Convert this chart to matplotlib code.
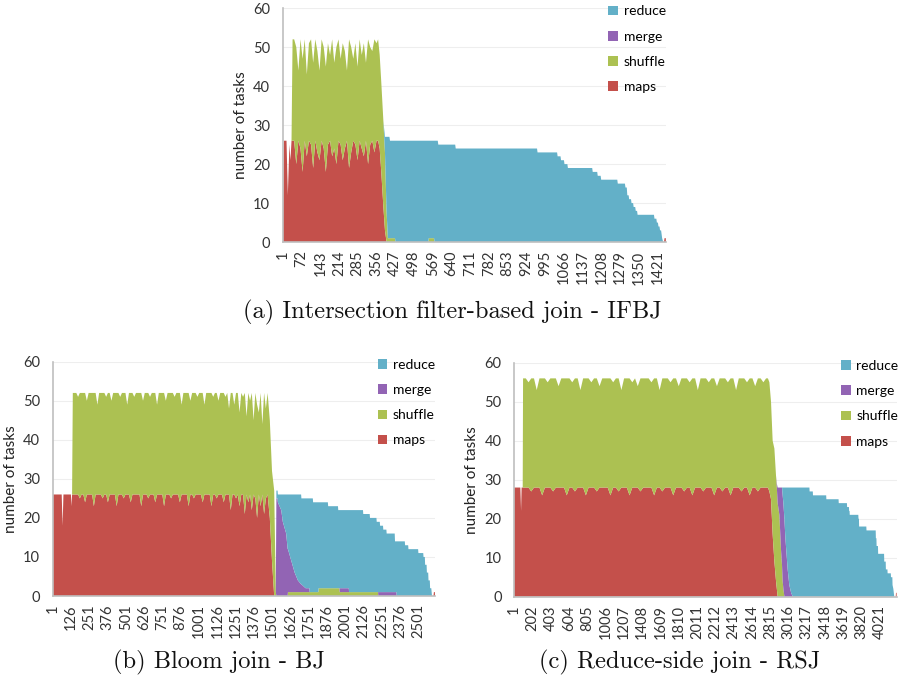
import matplotlib.pyplot as plt

plt.rcParams['font.family'] = ['Lato', 'DejaVu Sans']

# ---- (a) IFBJ ----
# phase 1: maps + shuffle
A1_X = [1, 5, 15, 20, 26, 30, 34, 38,
        44, 52, 60, 68, 76, 84, 92, 100, 108, 116, 124, 132, 140, 148, 156, 164,
        172, 180, 188, 196, 204, 212, 220, 228, 236, 244, 252, 260, 268, 276, 284,
        292, 300, 308, 316, 324, 332, 340, 348, 356, 362]
A1_MAPS = [0, 26, 26, 12, 25, 21, 26, 26,
           26, 20, 26, 24, 18, 26, 22, 26, 25, 19, 26, 23, 21, 26, 24, 18, 25, 26,
           22, 24, 20, 26, 25, 21, 24, 26, 19, 23, 26, 25, 21, 26, 24, 22, 26, 20,
           25, 26, 23, 26, 26]
A1_SHUFFLE = [0, 0, 0, 0, 0, 0, 0, 26,
              26, 30, 18, 28, 29, 26, 21, 25, 27, 27, 26, 26, 23, 26, 26, 27, 26, 22,
              30, 22, 30, 26, 22, 30, 25, 18, 33, 27, 21, 26, 24, 26, 24, 29, 20, 32,
              25, 23, 29, 25, 26]
# transition
A2_X = [368, 374, 382, 388, 394, 399, 405, 407, 426, 428, 552, 554, 574, 576]
A2_MAPS = [24, 18, 9, 3, 0, 0, 0, 0, 0, 0, 0, 0, 0, 0]
A2_SHUFFLE = [24, 23, 22, 20, 8, 1, 1, 1, 1, 0, 0, 1, 1, 0]
A2_MERGE = [0, 0, 0, 0, 0, 0, 0, 0, 0, 0, 0, 0, 0, 0]
A2_REDUCE = [0, 0, 0, 4, 19, 26, 26, 25, 25, 26, 26, 25, 25, 26]
# reduce tail
A3_X = [588, 590, 654, 656, 964, 966, 1040, 1042, 1053, 1055, 1066, 1068, 1079, 1081,
        1173, 1175, 1192, 1194, 1205, 1207, 1268, 1270, 1297, 1299, 1304, 1306, 1311,
        1313, 1320, 1322, 1328, 1330, 1336, 1338, 1343, 1345, 1407, 1409, 1416, 1418,
        1422, 1424, 1428, 1430, 1434, 1436, 1438, 1442]
A3_REDUCE = [26, 25, 25, 24, 24, 23, 23, 22, 22, 21, 21, 20, 20, 19, 19, 18, 18, 17,
             17, 16, 16, 15, 15, 14, 14, 12, 12, 11, 11, 10, 10, 9, 9, 8, 8, 7, 7, 6,
             6, 5, 5, 4, 4, 3, 3, 2, 1, 0]
A4_X = [1445, 1447, 1452]
A4_MAPS = [0, 1, 1]
A_TICKS = [1, 72, 143, 214, 285, 356, 427, 498, 569, 640, 711, 782, 853, 924, 995,
           1066, 1137, 1208, 1279, 1350, 1421]
A_N = 1452

# ---- (b) BJ ----
B1_X = [1, 62, 68, 74, 125, 129, 133, 138,
        150, 162, 174, 186, 198, 210, 222, 234, 246, 258,
        270, 282, 294, 306, 318, 330, 342, 354, 366, 378,
        390, 402, 414, 426, 438, 450, 462, 474, 486, 498,
        510, 522, 534, 546, 558, 570, 582, 594, 606, 618,
        630, 642, 654, 666, 678, 690, 702, 714, 726, 738,
        750, 762, 774, 786, 798, 810, 822, 834, 846, 858,
        870, 882, 894, 906, 918, 930, 942, 954, 966, 978,
        990, 1002, 1014, 1026, 1038, 1050, 1062, 1074, 1086, 1098,
        1110, 1122, 1134, 1146, 1158, 1170, 1182, 1194, 1206, 1218,
        1230, 1242, 1254, 1266, 1278, 1290, 1302, 1314, 1326, 1338,
        1350, 1362, 1374, 1386, 1398, 1410, 1422, 1434, 1446, 1458,
        1470]
B1_MAPS = [26, 26, 18, 26, 26, 23, 26, 26,
           26, 26, 26, 25, 26, 26, 24, 26, 26, 26,
           26, 23, 26, 26, 26, 26, 25, 26, 26, 24,
           26, 26, 26, 26, 23, 26, 26, 26, 25, 26,
           26, 26, 24, 26, 26, 26, 26, 26, 23, 26,
           26, 26, 25, 26, 26, 26, 24, 26, 26, 26,
           26, 23, 26, 26, 26, 25, 26, 26, 26, 26,
           24, 26, 26, 26, 26, 23, 26, 26, 25, 26,
           26, 26, 26, 24, 26, 26, 26, 26, 23, 26,
           26, 25, 26, 26, 26, 24, 26, 26, 26, 22,
           26, 26, 25, 26, 23, 26, 26, 21, 26, 24,
           26, 22, 26, 25, 20, 26, 23, 26, 21, 25,
           26]
B1_SHUFFLE = [0, 0, 0, 0, 0, 0, 0, 26,
              26, 26, 25, 27, 26, 26, 28, 24, 26, 26,
              26, 29, 26, 23, 26, 26, 27, 26, 25, 28,
              26, 24, 26, 26, 29, 26, 25, 26, 27, 26,
              23, 26, 28, 26, 25, 26, 26, 26, 29, 24,
              26, 26, 27, 25, 26, 26, 28, 23, 26, 26,
              26, 29, 24, 26, 26, 27, 26, 25, 26, 26,
              28, 23, 26, 26, 26, 29, 24, 26, 27, 26,
              25, 26, 26, 28, 23, 26, 26, 26, 29, 25,
              26, 27, 24, 26, 26, 28, 25, 26, 22, 30,
              26, 23, 27, 26, 24, 26, 25, 31, 20, 28,
              24, 30, 19, 27, 29, 21, 29, 18, 31, 23,
              26]
B2_X = [1485, 1500, 1515, 1526, 1530, 1538, 1540, 1563, 1574, 1597,
        1607, 1609, 1632, 1655, 1677, 1699, 1701, 1730, 1756, 1758,
        1779, 1781, 1817, 1819, 1882, 1884, 1951, 1953, 1961, 1963,
        2025, 2027, 2122, 2124, 2168, 2170, 2214, 2216, 2225, 2227,
        2237, 2239, 2259, 2261, 2282, 2284, 2339, 2341, 2351, 2353]
B2_MAPS = [20, 9, 0, 0, 0, 0, 0, 0, 0, 0,
           0, 0, 0, 0, 0, 0, 0, 0, 0, 0,
           0, 0, 0, 0, 0, 0, 0, 0, 0, 0,
           0, 0, 0, 0, 0, 0, 0, 0, 0, 0,
           0, 0, 0, 0, 0, 0, 0, 0, 0, 0]
B2_SHUFFLE = [25, 23, 27, 1, 0, 0, 0, 0, 0, 0,
              0, 1, 1, 1, 1, 1, 1, 1, 1, 1,
              1, 1, 1, 2, 2, 2, 2, 2, 2, 1,
              1, 1, 1, 1, 1, 1, 1, 1, 1, 0,
              0, 0, 0, 0, 0, 0, 0, 0, 0, 0]
B2_MERGE = [0, 0, 0, 0, 25, 25, 24, 22, 19, 16,
            12, 11, 8, 5, 3, 2, 2, 1, 1, 0,
            0, 0, 0, 0, 0, 0, 0, 0, 0, 1,
            1, 0, 0, 0, 0, 0, 0, 0, 0, 1,
            1, 1, 1, 1, 1, 1, 1, 1, 1, 0]
B2_REDUCE = [0, 0, 0, 0, 2, 2, 2, 4, 7, 10,
             14, 14, 17, 20, 22, 23, 22, 23, 23, 24,
             24, 23, 23, 22, 22, 21, 21, 20, 20, 20,
             20, 21, 21, 20, 20, 19, 19, 18, 18, 18,
             18, 17, 17, 16, 16, 15, 15, 13, 13, 14]
B3_X = [2408, 2410, 2431, 2433, 2499, 2501, 2534, 2536, 2545, 2547, 2557, 2559,
        2568, 2570, 2579, 2581, 2589, 2594]
B3_REDUCE = [14, 13, 13, 12, 12, 11, 11, 10, 10, 8, 8, 6, 6, 4, 4, 2, 2, 0]
B4_X = [2604, 2607, 2614]
B4_MAPS = [0, 1, 1]
B_TICKS = [1, 126, 251, 376, 501, 626, 751, 876, 1001, 1126, 1251, 1376, 1501,
           1626, 1751, 1876, 2001, 2126, 2251, 2376, 2501]
B_N = 2614

# ---- (c) RSJ ----
C1_X = [1, 70, 78, 84, 96, 100,
        130, 160, 190, 220, 250, 280, 310, 340, 370, 400,
        430, 460, 490, 520, 550, 580, 610, 640, 670, 700,
        730, 760, 790, 820, 850, 880, 910, 940, 970, 1000,
        1030, 1060, 1090, 1120, 1150, 1180, 1210, 1240, 1270, 1300,
        1330, 1360, 1390, 1420, 1450, 1480, 1510, 1540, 1570, 1600,
        1630, 1660, 1690, 1720, 1750, 1780, 1810, 1840, 1870, 1900,
        1930, 1960, 1990, 2020, 2050, 2080, 2110, 2140, 2170, 2200,
        2230, 2260, 2290, 2320, 2350, 2380, 2410, 2440, 2470, 2500,
        2530, 2560, 2590, 2620, 2650, 2680, 2710, 2740, 2770,
        2790]
C1_MAPS = [28, 28, 22, 28, 28, 28,
           28, 28, 27, 28, 28, 28, 26, 28, 28, 28,
           27, 28, 28, 28, 28, 26, 28, 28, 27, 28,
           28, 28, 26, 28, 28, 28, 27, 28, 28, 28,
           28, 26, 28, 28, 27, 28, 28, 28, 26, 28,
           28, 28, 27, 28, 28, 28, 28, 26, 28, 28,
           27, 28, 28, 28, 26, 28, 28, 28, 27, 28,
           28, 26, 28, 28, 28, 27, 28, 28, 28, 26,
           28, 28, 27, 28, 28, 26, 28, 28, 28, 27,
           28, 28, 26, 28, 28, 27, 28, 28, 28,
           28]
C1_SHUFFLE = [0, 0, 0, 0, 0, 28,
              28, 27, 29, 28, 25, 28, 30, 28, 27, 28,
              29, 28, 26, 28, 28, 30, 28, 27, 29, 28,
              25, 28, 30, 28, 27, 28, 29, 26, 28, 28,
              28, 30, 27, 28, 29, 25, 28, 28, 30, 27,
              28, 26, 29, 28, 28, 28, 27, 30, 28, 25,
              29, 28, 28, 27, 30, 28, 26, 28, 29, 28,
              27, 30, 28, 25, 28, 29, 28, 27, 28, 30,
              26, 28, 29, 28, 27, 30, 28, 25, 28, 29,
              28, 27, 30, 28, 26, 29, 28, 27, 28,
              28]
C2_X = [2806, 2824, 2842, 2861, 2879, 2888, 2897, 2916, 2934, 2945, 2952, 2960,
        2971, 2982, 3007, 3025, 3045, 3063]
C2_MAPS = [27, 25, 16, 9, 4, 2, 0, 0, 0, 0, 0, 0, 0, 0, 0, 0, 0, 0]
C2_SHUFFLE = [28, 25, 24, 29, 27, 26, 24, 21, 12, 8, 4, 2, 0, 0, 0, 0, 0, 0]
C2_MERGE = [0, 0, 0, 0, 0, 1, 4, 7, 16, 20, 22, 22, 20, 15, 7, 3, 1, 0]
C2_REDUCE = [0, 0, 0, 0, 0, 0, 0, 0, 0, 0, 2, 4, 8, 13, 21, 25, 27, 28]
C3_X = [3246, 3248, 3283, 3285, 3430, 3432, 3566, 3568, 3658, 3660, 3680, 3682,
        3687, 3689, 3783, 3785, 3790, 3792, 3871, 3873, 3974, 3976, 3982, 3984,
        3999, 4001, 4066, 4068, 4084, 4086, 4103, 4105, 4140, 4142, 4157, 4159,
        4168, 4178]
C3_REDUCE = [28, 27, 27, 26, 26, 25, 25, 24, 24, 23, 23, 22, 22, 21, 21, 20, 20, 18,
             18, 17, 17, 15, 15, 13, 13, 11, 11, 9, 9, 7, 7, 6, 6, 5, 5, 3, 2, 0]
C4_X = [4194, 4197, 4204]
C4_MAPS = [0, 1, 1]
C_TICKS = [1, 202, 403, 604, 805, 1006, 1207, 1408, 1609, 1810, 2011, 2212, 2413,
           2614, 2815, 3016, 3217, 3418, 3619, 3820, 4021]
C_N = 4204

NAMES = ['maps', 'shuffle', 'merge', 'reduce']
COLORS = ['#C4504B', '#ACC152', '#9264B4', '#63B0C8']


def build(p_x, p_maps, p_shuffle, t_x, t_maps, t_shuffle, t_merge, t_reduce,
          r_x, r_reduce, e_x, e_maps):
    n1, n3, n4 = len(p_x), len(r_x), len(e_x)
    x = p_x + t_x + r_x + e_x
    maps = p_maps + t_maps + [0] * n3 + e_maps
    shuffle = p_shuffle + t_shuffle + [0] * (n3 + n4)
    merge = [0] * n1 + t_merge + [0] * (n3 + n4)
    reduce_ = [0] * n1 + t_reduce + r_reduce + [0] * n4
    return x, [maps, shuffle, merge, reduce_]


def draw(ax, x, ys, ticks, n, leg_anchor):
    ax.stackplot(x, ys, colors=COLORS, labels=NAMES, linewidth=0)
    ax.set_xlim(0.5, n + 0.5)
    ax.set_ylim(0, 60)
    ax.set_yticks(range(0, 61, 10))
    ax.set_xticks(ticks)
    ax.set_xticklabels([str(t) for t in ticks], rotation=90)
    ax.tick_params(axis='both', length=0, labelsize=10.5, colors='#333333')
    ax.tick_params(axis='y', pad=9)
    ax.tick_params(axis='x', pad=6)
    ax.grid(axis='y', color='#EEEEEE', linewidth=0.8)
    ax.set_axisbelow(True)
    for s in ['top', 'right']:
        ax.spines[s].set_visible(False)
    for s in ['left', 'bottom']:
        ax.spines[s].set_color('#BFBFBF')
        ax.spines[s].set_linewidth(1.2)
    ax.set_ylabel('number of tasks', fontsize=11, color='#222222', labelpad=4)
    handles, labels = ax.get_legend_handles_labels()
    ax.legend(handles[::-1], labels[::-1], loc='upper left', bbox_to_anchor=leg_anchor,
              frameon=False, fontsize=10, handlelength=0.7, handleheight=0.7,
              handletextpad=0.4, labelspacing=0.95, borderpad=0, borderaxespad=0)


fig = plt.figure(figsize=(9.04, 6.8), dpi=100)

ax_a = fig.add_axes([0.3127, 0.644, 0.424, 0.344])
xa, ya = build(A1_X, A1_MAPS, A1_SHUFFLE, A2_X, A2_MAPS, A2_SHUFFLE, A2_MERGE, A2_REDUCE,
               A3_X, A3_REDUCE, A4_X, A4_MAPS)
draw(ax_a, xa, ya, A_TICKS, A_N, (0.85, 1.012))

ax_b = fig.add_axes([0.0583, 0.1235, 0.4229, 0.3446])
xb, yb = build(B1_X, B1_MAPS, B1_SHUFFLE, B2_X, B2_MAPS, B2_SHUFFLE, B2_MERGE, B2_REDUCE,
               B3_X, B3_REDUCE, B4_X, B4_MAPS)
draw(ax_b, xb, yb, B_TICKS, B_N, (0.85, 1.012))

ax_c = fig.add_axes([0.5686, 0.1225, 0.4233, 0.344])
xc, yc = build(C1_X, C1_MAPS, C1_SHUFFLE, C2_X, C2_MAPS, C2_SHUFFLE, C2_MERGE, C2_REDUCE,
               C3_X, C3_REDUCE, C4_X, C4_MAPS)
draw(ax_c, xc, yc, C_TICKS, C_N, (0.855, 1.012))

cap = dict(ha='center', va='center', fontsize=17.6, family=['cmr10', 'DejaVu Serif'],
           color='#111111')
fig.text(452 / 904, 1 - 312 / 680, '(a) Intersection filter-based join - IFBJ', **cap)
fig.text(219 / 904, 1 - 662 / 680, '(b) Bloom join - BJ', **cap)
fig.text(680 / 904, 1 - 662 / 680, '(c) Reduce-side join - RSJ', **cap)

fig.savefig('out.png', dpi=100)
